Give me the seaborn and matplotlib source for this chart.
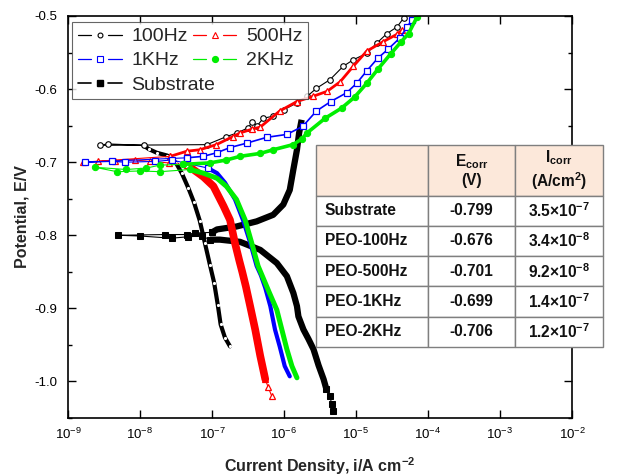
import numpy as np
import pandas as pd
import matplotlib
matplotlib.use("Agg")
import matplotlib.pyplot as plt
import seaborn as sns
from matplotlib.table import Table
from matplotlib.lines import Line2D
from matplotlib.legend_handler import HandlerBase
from matplotlib.transforms import Bbox
from matplotlib.ticker import FixedLocator, NullLocator, MultipleLocator, FormatStrFormatter

# ---------------- data (log10 of current density in A/cm2, potential in V) ----------------
# Substrate
sub_cath_logi = [-5.32, -5.34, -5.36, -5.41]
sub_cath_E = [-1.041, -1.031, -1.020, -1.011]
sub_band1_logi = [-5.41, -5.45, -5.52, -5.59, -5.66, -5.73, -5.80, -5.82, -5.87, -5.96, -6.10, -6.33, -6.61, -6.89, -7.03]
sub_band1_E = [-1.011, -0.997, -0.978, -0.956, -0.942, -0.929, -0.911, -0.897, -0.879, -0.856, -0.838, -0.820, -0.809, -0.806, -0.806]
sub_mid_logi = [-7.03, -7.14, -7.33, -7.56, -8.00, -8.30, -7.65, -7.35, -7.24, -7.00]
sub_mid_E = [-0.806, -0.801, -0.802, -0.804, -0.801, -0.800, -0.799, -0.799, -0.797, -0.796]
sub_band2_logi = [-7.00, -6.93, -6.66, -6.38, -6.15, -6.01, -5.92, -5.87, -5.82, -5.79, -5.755]
sub_band2_E = [-0.796, -0.792, -0.788, -0.781, -0.772, -0.758, -0.738, -0.710, -0.683, -0.660, -0.642]

# PEO-100Hz
h100_band_logi = [-6.75, -6.82, -6.88, -6.92, -6.97, -7.03, -7.10, -7.17, -7.25, -7.33, -7.42, -7.50, -7.62, -7.77, -7.88, -7.95]
h100_band_E = [-0.952, -0.940, -0.922, -0.895, -0.865, -0.840, -0.810, -0.780, -0.755, -0.735, -0.715, -0.701, -0.691, -0.687, -0.682, -0.677]
h100_anod_logi = [-7.95, -8.45, -8.56, -7.07, -6.80, -6.65, -6.50, -6.44, -6.37, -6.29, -6.15, -6.00, -5.82, -5.68, -5.55, -5.36,
                  -5.18, -5.04, -4.85, -4.71, -4.57, -4.43, -4.34]
h100_anod_E = [-0.677, -0.675, -0.677, -0.676, -0.665, -0.660, -0.653, -0.645, -0.650, -0.640, -0.637, -0.628, -0.619, -0.610, -0.599, -0.587,
               -0.569, -0.560, -0.551, -0.537, -0.524, -0.515, -0.503]

# PEO-500Hz
h500_tail_logi = [-6.17, -6.22, -6.26]
h500_tail_E = [-1.020, -1.008, -0.997]
h500_band_logi = [-6.26, -6.33, -6.40, -6.47, -6.53, -6.58, -6.62, -6.68, -6.75, -6.84, -6.98, -7.12, -7.26, -7.35]
h500_band_E = [-0.997, -0.965, -0.929, -0.897, -0.870, -0.850, -0.835, -0.811, -0.779, -0.760, -0.733, -0.720, -0.710, -0.704]
h500_anod_logi = [-7.35, -7.60, -7.86, -8.07, -8.35, -8.58, -8.79, -7.58, -7.35, -7.17, -6.94, -6.71, -6.61, -6.45, -6.33, -6.06,
                  -5.82, -5.60, -5.40, -5.22, -5.04, -4.85, -4.62, -4.43, -4.36]
h500_anod_E = [-0.704, -0.701, -0.699, -0.697, -0.698, -0.699, -0.700, -0.692, -0.685, -0.683, -0.676, -0.665, -0.660, -0.655, -0.652, -0.630,
               -0.617, -0.610, -0.603, -0.590, -0.569, -0.548, -0.535, -0.525, -0.519]

# PEO-1KHz
k1_band_logi = [-5.92, -5.99, -6.06, -6.125, -6.19, -6.26, -6.32, -6.38, -6.47, -6.57, -6.68, -6.82, -6.93, -7.06]
k1_band_E = [-0.993, -0.979, -0.952, -0.929, -0.897, -0.872, -0.855, -0.842, -0.810, -0.779, -0.751, -0.728, -0.715, -0.708]
k1_anod_logi = [-7.06, -7.56, -7.79, -8.21, -8.39, -8.76, -7.35, -7.12, -6.93, -6.75, -6.52, -6.24, -5.96, -5.74, -5.55, -5.35,
                -5.13, -4.99, -4.85, -4.70, -4.55, -4.39, -4.29, -4.22]
k1_anod_E = [-0.708, -0.697, -0.699, -0.700, -0.699, -0.700, -0.694, -0.692, -0.687, -0.680, -0.674, -0.666, -0.662, -0.651, -0.630, -0.617,
             -0.605, -0.592, -0.575, -0.558, -0.545, -0.530, -0.515, -0.505]

# PEO-2KHz
k2_band_logi = [-5.82, -5.89, -5.96, -6.03, -6.10, -6.21, -6.36, -6.45, -6.54, -6.66, -6.80, -6.93, -7.12, -7.31]
k2_band_E = [-0.995, -0.979, -0.956, -0.929, -0.902, -0.877, -0.842, -0.810, -0.779, -0.751, -0.733, -0.722, -0.715, -0.710]
k2_anod_logi = [-7.31, -7.72, -8.00, -8.32, -8.625, -8.19, -7.91, -7.72, -7.40, -7.03, -6.80, -6.61, -6.33, -6.15, -5.875, -5.75,
                -5.68, -5.43, -5.20, -5.02, -4.85, -4.69, -4.52, -4.37, -4.27, -4.15]
k2_anod_E = [-0.710, -0.713, -0.712, -0.713, -0.707, -0.710, -0.708, -0.704, -0.703, -0.701, -0.697, -0.692, -0.688, -0.683, -0.676, -0.668,
             -0.660, -0.640, -0.626, -0.611, -0.592, -0.572, -0.552, -0.535, -0.524, -0.501]

legend_labels = ["100Hz", "500Hz", "1KHz", "2KHz", "Substrate"]
x_ticks = [1e-9, 1e-8, 1e-7, 1e-6, 1e-5, 1e-4, 1e-3, 1e-2]
y_ticks = [-1.0, -0.9, -0.8, -0.7, -0.6, -0.5]

table_header = ["", "E$_{\\mathbf{corr}}$\n(V)", "I$_{\\mathbf{corr}}$\n(A/cm$^{\\mathbf{2}}$)"]
table_samples = ["Substrate", "PEO-100Hz", "PEO-500Hz", "PEO-1KHz", "PEO-2KHz"]
table_ecorr = ["-0.799", "-0.676", "-0.701", "-0.699", "-0.706"]
table_icorr = ["3.5×10$^{\\mathbf{-7}}$", "3.4×10$^{\\mathbf{-8}}$", "9.2×10$^{\\mathbf{-8}}$",
               "1.4×10$^{\\mathbf{-7}}$", "1.2×10$^{\\mathbf{-7}}$"]

# ---------------- style ----------------
sns.set_theme(style="ticks")
plt.rcParams["font.family"] = ["Liberation Sans", "DejaVu Sans"]
plt.rcParams["mathtext.fontset"] = "custom"
plt.rcParams["mathtext.rm"] = "Liberation Sans"
plt.rcParams["mathtext.it"] = "Liberation Sans:italic"
plt.rcParams["mathtext.bf"] = "Liberation Sans:bold"
plt.rcParams["axes.unicode_minus"] = False

fig = plt.figure(figsize=(6.25, 4.76), dpi=100)
ax = fig.add_axes([68 / 625, 1 - 418 / 476, 504 / 625, 402 / 476])


def draw(logi, E, **kw):
    d = pd.DataFrame({"i": 10 ** np.array(logi), "E": E})
    sns.lineplot(data=d, x="i", y="E", sort=False, estimator=None, ax=ax, legend=False, **kw)
    return ax.lines[-1]


BLACK, RED, BLUE, GREEN = "#000000", "#FF0000", "#0000FF", "#00EE00"

# Substrate
draw(sub_cath_logi, sub_cath_E, color=BLACK, lw=0.8, marker="s", ms=5, mec=BLACK, mfc=BLACK)
draw(sub_band1_logi, sub_band1_E, color=BLACK, lw=4.5, solid_capstyle="butt")
draw(sub_mid_logi, sub_mid_E, color=BLACK, lw=0.8, marker="s", ms=5, mec=BLACK, mfc=BLACK)
draw(sub_band2_logi, sub_band2_E, color=BLACK, lw=4.5, solid_capstyle="butt")

# 100Hz
draw(h100_band_logi, h100_band_E, color=BLACK, lw=3.0)
draw(h100_band_logi, h100_band_E, color="white", lw=0, marker="o", ms=1.5, mec="white", mfc="white")
draw(h100_anod_logi, h100_anod_E, color=BLACK, lw=0.8, marker="o", ms=4, mec=BLACK, mfc="white", mew=0.8)

# 500Hz
draw(h500_tail_logi, h500_tail_E, color=RED, lw=0.8, marker="^", ms=5, mec=RED, mfc="white", mew=0.9)
draw(h500_band_logi, h500_band_E, color=RED, lw=5.5)
draw(h500_anod_logi[:8], h500_anod_E[:8], color=RED, lw=0.8, marker="^", ms=5, mec=RED, mfc="white", mew=0.9)
draw(h500_anod_logi[7:], h500_anod_E[7:], color=RED, lw=2.0, marker="^", ms=5, mec=RED, mfc="white", mew=0.9)

# 1KHz
draw(k1_band_logi, k1_band_E, color=BLUE, lw=3.0)
draw(k1_anod_logi[:7], k1_anod_E[:7], color=BLUE, lw=0.8, marker="s", ms=4.5, mec=BLUE, mfc="white", mew=0.9)
draw(k1_anod_logi[6:], k1_anod_E[6:], color=BLUE, lw=1.2, marker="s", ms=4.5, mec=BLUE, mfc="white", mew=0.9)

# 2KHz
draw(k2_band_logi, k2_band_E, color=GREEN, lw=3.6)
draw(k2_anod_logi[:9], k2_anod_E[:9], color=GREEN, lw=0.8, marker="o", ms=4.5, mec=GREEN, mfc=GREEN)
draw(k2_anod_logi[8:], k2_anod_E[8:], color=GREEN, lw=2.6, marker="o", ms=4.5, mec=GREEN, mfc=GREEN)

# axes
ax.set_xscale("log")
ax.set_xlim(1e-9, 1e-2)
ax.set_ylim(-1.05, -0.5)
ax.xaxis.set_major_locator(FixedLocator(x_ticks))
ax.xaxis.set_minor_locator(NullLocator())
ax.yaxis.set_major_locator(FixedLocator(y_ticks))
ax.yaxis.set_minor_locator(MultipleLocator(0.05))
ax.yaxis.set_major_formatter(FormatStrFormatter("%.1f"))
ax.tick_params(which="both", direction="in", top=True, right=True, colors="black", labelsize=9.5)
ax.tick_params(which="major", length=6, width=1)
ax.tick_params(which="minor", length=3, width=1)
ax.tick_params(axis="y", pad=8)
ax.tick_params(axis="x", pad=6)
for s in ax.spines.values():
    s.set_linewidth(1.2)
    s.set_color("black")
ax.set_xlabel("Current Density, i/A cm$^{\\mathbf{-2}}$", fontsize=11.5, fontweight="bold", labelpad=10)
ax.set_ylabel("Potential, E/V", fontsize=11.5, fontweight="bold", labelpad=3)


# legend: line - gap - marker - gap - line
class GapHandler(HandlerBase):
    def create_artists(self, legend, orig, xdescent, ydescent, width, height, fontsize, trans):
        y = height / 2.0 - ydescent
        x0 = -xdescent
        x1 = x0 + width
        xm = x0 + width / 2.0
        g = 0.19 * width
        kw = dict(color=orig.get_color(), lw=orig.get_linewidth(), transform=trans)
        l1 = Line2D([x0, xm - g], [y, y], **kw)
        l2 = Line2D([xm + g, x1], [y, y], **kw)
        m = Line2D([xm], [y], ls="none", marker=orig.get_marker(), ms=orig.get_markersize(),
                   mec=orig.get_markeredgecolor(), mfc=orig.get_markerfacecolor(),
                   mew=orig.get_markeredgewidth(), transform=trans)
        return [l1, l2, m]


proxy = {
    "100Hz": Line2D([], [], color=BLACK, lw=0.9, marker="o", ms=3.5, mec=BLACK, mfc="white", mew=0.8),
    "500Hz": Line2D([], [], color=RED, lw=0.9, marker="^", ms=4.5, mec=RED, mfc="white", mew=0.8),
    "1KHz": Line2D([], [], color=BLUE, lw=0.9, marker="s", ms=3.8, mec=BLUE, mfc="white", mew=0.8),
    "2KHz": Line2D([], [], color=GREEN, lw=0.9, marker="o", ms=4.2, mec=GREEN, mfc=GREEN),
    "Substrate": Line2D([], [], color=BLACK, lw=1.2, marker="s", ms=4.5, mec=BLACK, mfc=BLACK),
}
order = [legend_labels[0], legend_labels[2], legend_labels[4], legend_labels[1], legend_labels[3]]
leg = ax.legend([proxy[k] for k in order], order, ncol=2, loc="upper left",
                bbox_to_anchor=(72 / 625, 1 - 22 / 476), bbox_transform=fig.transFigure,
                borderaxespad=0, fontsize=14, frameon=True, fancybox=False, handlelength=2.25,
                handletextpad=0.5, columnspacing=0.25, labelspacing=0.33, borderpad=0.3, numpoints=1,
                handler_map={Line2D: GapHandler()})
leg.get_frame().set_edgecolor("#404040")
leg.get_frame().set_linewidth(0.8)

# let "Substrate" (row 3, column 1) overhang the empty cell of column 2
try:
    col1 = leg._legend_handle_box.get_children()[0]
    sub_row = col1.get_children()[2]
    sub_text_area = sub_row.get_children()[1]
    _orig_bbox = sub_text_area.get_bbox

    def _narrow_bbox(renderer, _f=_orig_bbox):
        b = _f(renderer)
        return Bbox.from_bounds(b.x0, b.y0, b.width * 0.55, b.height)

    sub_text_area.get_bbox = _narrow_bbox
except Exception:
    pass

# table
tax = fig.add_axes([316 / 625, 1 - 347 / 476, 287 / 625, 202 / 476])
tax.axis("off")
tb = Table(tax, bbox=[0, 0, 1, 1])
col_w = [112, 87, 88]
head_h, row_h = 50, 30
PEACH = "#FCE8DA"
for c in range(3):
    tb.add_cell(0, c, width=col_w[c] / 287, height=head_h / 202, text=table_header[c],
                loc="center", facecolor=PEACH, edgecolor="#7f7f7f")
for r in range(5):
    vals = [table_samples[r], table_ecorr[r], table_icorr[r]]
    for c in range(3):
        tb.add_cell(r + 1, c, width=col_w[c] / 287, height=row_h / 202, text=vals[c],
                    loc="left" if c == 0 else "center", facecolor="white", edgecolor="#7f7f7f")
tb.auto_set_font_size(False)
tb.set_fontsize(11.2)
for (r, c), cell in tb.get_celld().items():
    cell.set_linewidth(1.0)
    cell.get_text().set_fontweight("bold")
    cell.get_text().set_color("#111111")
    if c == 0:
        cell.PAD = 0.08
tax.add_table(tb)

fig.savefig("out.png", dpi=100, facecolor="white")
